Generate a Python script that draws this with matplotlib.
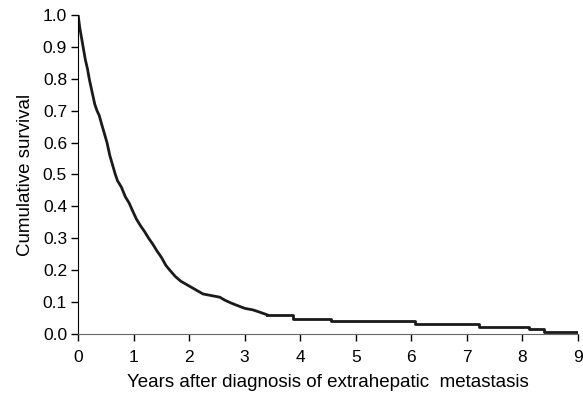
import matplotlib
matplotlib.use("Agg")
import matplotlib.pyplot as plt

# Kaplan-Meier estimate (years, cumulative survival)
# early part: many small steps, drawn as a line
years_early = [0, 0.03, 0.06, 0.09, 0.13, 0.17, 0.20, 0.25, 0.30, 0.34, 0.38, 0.42,
               0.47, 0.52, 0.57, 0.62, 0.67, 0.71, 0.78, 0.85, 0.92, 0.97, 1.05, 1.12,
               1.20, 1.27, 1.35, 1.42, 1.50, 1.58, 1.65, 1.75, 1.85, 1.95, 2.05, 2.15,
               2.25, 2.40, 2.55, 2.65, 2.75, 2.85, 3.00, 3.15, 3.27, 3.40]
surv_early = [1.0, 0.96, 0.93, 0.90, 0.86, 0.83, 0.80, 0.76, 0.72, 0.70, 0.685, 0.66,
              0.63, 0.60, 0.56, 0.53, 0.50, 0.48, 0.46, 0.43, 0.41, 0.39, 0.36, 0.34,
              0.32, 0.30, 0.28, 0.26, 0.24, 0.215, 0.20, 0.18, 0.165, 0.155, 0.145, 0.135,
              0.125, 0.12, 0.115, 0.105, 0.097, 0.09, 0.08, 0.075, 0.068, 0.06]
# tail: few events, clear steps
years_tail = [3.40, 3.87, 4.56, 6.06, 7.23, 8.13, 8.40, 9.0]
surv_tail = [0.06, 0.047, 0.04, 0.031, 0.022, 0.015, 0.007, 0.007]

x_ticks = [0, 1, 2, 3, 4, 5, 6, 7, 8, 9]
y_ticks = [0.0, 0.1, 0.2, 0.3, 0.4, 0.5, 0.6, 0.7, 0.8, 0.9, 1.0]

plt.rcParams['font.family'] = ['Liberation Sans', 'DejaVu Sans']

fig = plt.figure(figsize=(5.83, 3.96), dpi=100)
ax = fig.add_axes([0.134, 0.157, 0.857, 0.805])

ax.plot(years_early, surv_early, color='#1a1a1a', linewidth=2.0)
ax.plot(years_tail, surv_tail, color='#1a1a1a', linewidth=2.0, drawstyle='steps-post')

ax.set_xlim(0, 9)
ax.set_ylim(0, 1.0)
ax.set_xticks(x_ticks)
ax.set_xticklabels([str(t) for t in x_ticks])
ax.set_yticks(y_ticks)
ax.set_yticklabels(['%.1f' % v for v in y_ticks])
ax.tick_params(labelsize=12.5, length=5, width=1, pad=3)
ax.tick_params(axis='x', pad=7)

ax.spines['top'].set_visible(False)
ax.spines['right'].set_visible(False)
ax.spines['left'].set_color('black')
ax.spines['bottom'].set_color('#666666')
ax.spines['left'].set_clip_on(False)
ax.spines['bottom'].set_clip_on(False)

ax.set_xlabel('Years after diagnosis of extrahepatic  metastasis', fontsize=13.5, labelpad=6)
ax.set_ylabel('Cumulative survival', fontsize=13.5, labelpad=6)

fig.savefig('out.png', dpi=100)
